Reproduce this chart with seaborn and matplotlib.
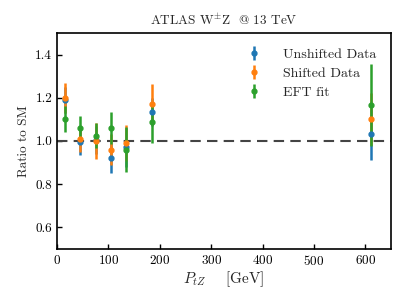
import matplotlib
matplotlib.use("Agg")
import matplotlib.pyplot as plt
import seaborn as sns
import numpy as np

# Data
ptz = [15, 45, 75, 106, 135, 185, 610]
unshifted = [1.19, 0.995, 1.005, 0.92, 0.97, 1.135, 1.03]
unshifted_err = [0.06, 0.06, 0.065, 0.07, 0.09, 0.065, 0.12]
shifted = [1.20, 1.01, 1.0, 0.96, 0.99, 1.17, 1.10]
shifted_err = [0.07, 0.06, 0.085, 0.07, 0.085, 0.095, 0.12]
eft = [1.10, 1.06, 1.025, 1.06, 0.96, 1.087, 1.167]
eft_err = [0.06, 0.055, 0.06, 0.075, 0.105, 0.095, 0.19]
labels = ["Unshifted Data", "Shifted Data", "EFT fit"]

sns.set_theme(style="ticks")
plt.rcParams.update({
    "font.family": "serif",
    "font.serif": ["cmr10"],
    "mathtext.fontset": "cm",
    "axes.unicode_minus": False,
    "axes.formatter.use_mathtext": True,
    "xtick.direction": "in",
    "ytick.direction": "in",
    "axes.edgecolor": "black",
    "axes.linewidth": 1.2,
})

palette = sns.color_palette("tab10", 3)
fig = plt.figure(figsize=(4.07, 3.05), dpi=100)
ax = fig.add_axes([0.14, 0.184, 0.821, 0.708])

ax.axhline(1.0, color="#444444", ls="--", lw=1.5, dashes=(5, 3), zorder=1)
for y, e, lab, c in zip([unshifted, shifted, eft], [unshifted_err, shifted_err, eft_err], labels, palette):
    ax.errorbar(ptz, y, yerr=e, fmt="o", color=c, ms=3.5, elinewidth=1.8, capsize=0, label=lab, zorder=3)

ax.set_xlim(0, 650)
ax.set_ylim(0.5, 1.5)
ax.set_xticks([0, 100, 200, 300, 400, 500, 600])
ax.set_yticks([0.6, 0.8, 1.0, 1.2, 1.4])
ax.set_yticklabels(["0.6", "0.8", "1.0", "1.2", "1.4"])
ax.tick_params(labelsize=9.5, length=3.5, width=1.0, colors="black")
ax.set_title(r"ATLAS W$^{\pm}$Z  @ 13 TeV", fontsize=9.5)
ax.set_xlabel(r"$P_{tZ}$    [GeV]", fontsize=11, labelpad=1)
ax.set_ylabel("Ratio to SM", fontsize=9.5)
ax.legend(loc="upper right", frameon=False, fontsize=10, handlelength=1.5,
          handletextpad=1.3, labelspacing=0.45, borderaxespad=0.7)

fig.savefig("out.png", dpi=100)
